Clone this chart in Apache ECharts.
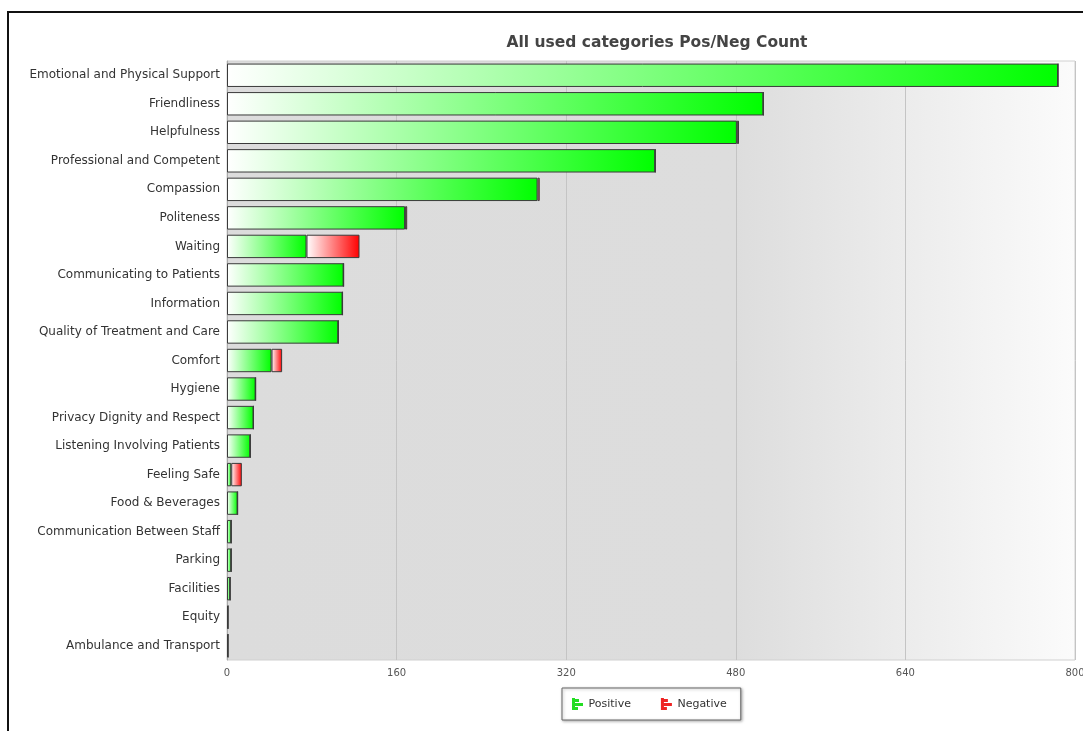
<!DOCTYPE html>
<html>
<head>
<meta charset="utf-8">
<script src="https://cdn.jsdelivr.net/npm/echarts@6/dist/echarts.min.js"></script>
<style>
  html, body { margin: 0; padding: 0; background: #fff; overflow: hidden; }
  #chart { width: 1083px; height: 731px; }
  .frame {
    position: absolute; left: 7px; top: 11px; width: 1076px; height: 720px;
    border-top: 2px solid #111; border-left: 2px solid #111; pointer-events: none;
  }
</style>
</head>
<body>
<div id="chart"></div>
<div class="frame"></div>
<script>
  var categories = [
    "Emotional and Physical Support", "Friendliness", "Helpfulness",
    "Professional and Competent", "Compassion", "Politeness", "Waiting",
    "Communicating to Patients", "Information", "Quality of Treatment and Care",
    "Comfort", "Hygiene", "Privacy Dignity and Respect", "Listening Involving Patients",
    "Feeling Safe", "Food & Beverages", "Communication Between Staff", "Parking",
    "Facilities", "Equity", "Ambulance and Transport"
  ]
  var positive = [784, 506, 481, 404, 293, 168, 75, 110, 109, 105, 42, 27, 25, 22, 4, 10, 4, 4, 3, 1, 1]
  var negative = [0, 0, 2, 0, 2, 2, 50, 0, 0, 0, 10, 0, 0, 0, 10, 0, 0, 0, 0, 0, 0]
  var xTicks = [0, 160, 320, 480, 640, 800]

  var barIcon = "path://M0,0h3v12h-3z M3,1h4v3h-4z M3,5h8v3h-8z M3,9h3v3h-3z"

  function grad(color) {
    return new echarts.graphic.LinearGradient(0, 0, 1, 0, [
      {offset: 0, color: "#ffffff"},
      {offset: 1, color: color}
    ])
  }

  var myChart = echarts.init(document.getElementById("chart"))
  var option = {
    animation: false,
    title: {
      text: "All used categories Pos/Neg Count",
      left: 652, top: 30, textAlign: "center",
      textStyle: {fontFamily: "DejaVu Sans", fontSize: 15.5, fontWeight: "bold", color: "#444"}
    },
    legend: {
      data: [
        {name: "Positive", icon: barIcon, itemStyle: {color: "#22dd22", borderWidth: 0}},
        {name: "Negative", icon: barIcon, itemStyle: {color: "#ee2222", borderWidth: 0}}
      ],
      left: 562, top: 688,
      padding: [10, 14, 10, 10],
      itemGap: 30, itemWidth: 12, itemHeight: 12,
      backgroundColor: "#fff", borderColor: "#666", borderWidth: 1,
      shadowColor: "rgba(0,0,0,0.3)", shadowBlur: 3, shadowOffsetX: 1, shadowOffsetY: 1,
      textStyle: {fontFamily: "DejaVu Sans", fontSize: 11, color: "#333"}
    },
    grid: {
      left: 227, right: 8, top: 61, bottom: 71,
      outerBoundsMode: "none",
      show: true, borderColor: "#d0d0d0", borderWidth: 1,
      backgroundColor: new echarts.graphic.LinearGradient(0, 0, 1, 0, [
        {offset: 0, color: "#dcdcdc"},
        {offset: 0.6, color: "#dddddd"},
        {offset: 1, color: "#fbfbfb"}
      ])
    },
    xAxis: {
      type: "value", min: xTicks[0], max: xTicks[xTicks.length - 1], interval: 160,
      axisLine: {show: false},
      axisTick: {show: false},
      axisLabel: {fontFamily: "DejaVu Sans", fontSize: 10, color: "#555", margin: 8},
      splitLine: {lineStyle: {color: "#c4c4c4", width: 1}}
    },
    yAxis: {
      type: "category", data: categories, inverse: true,
      axisLine: {show: true, lineStyle: {color: "#aaa"}},
      axisTick: {show: false},
      axisLabel: {fontFamily: "DejaVu Sans", fontSize: 12, color: "#333", margin: 7}
    },
    series: [
      {
        name: "Positive", type: "bar", stack: "total", data: positive,
        barCategoryGap: "18%",
        itemStyle: {color: grad("#00ff00"), borderColor: "#3a3a3a", borderWidth: 1}
      },
      {
        name: "Negative", type: "bar", stack: "total", data: negative,
        barCategoryGap: "18%",
        itemStyle: {color: grad("#ff0000"), borderColor: "#3a3a3a", borderWidth: 1}
      }
    ]
  }
  myChart.setOption(option)
</script>
</body>
</html>
